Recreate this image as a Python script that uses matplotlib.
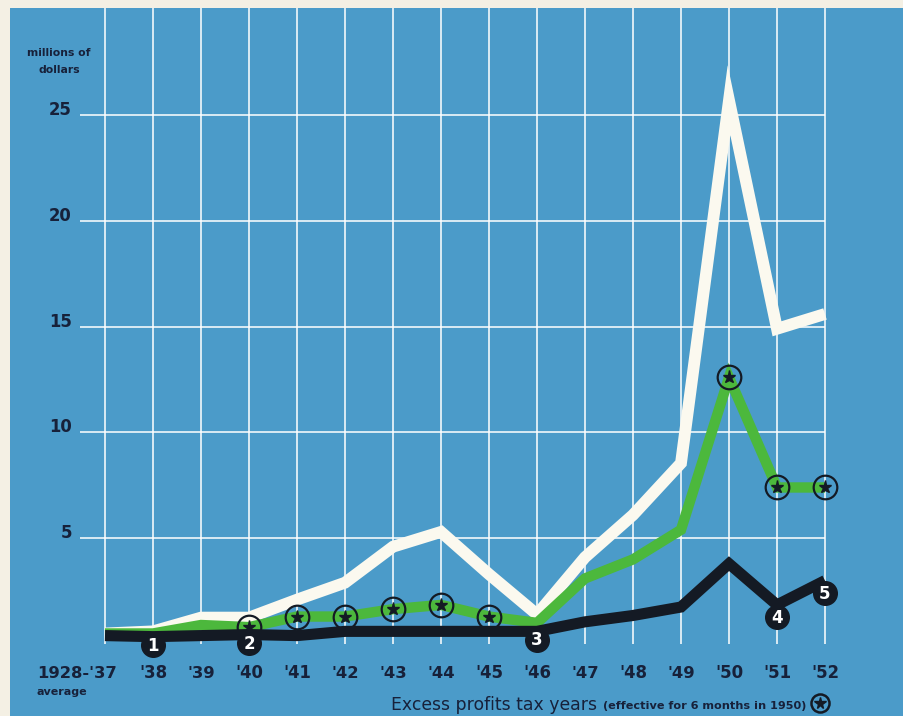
import matplotlib.pyplot as plt

# years on the x axis (0 = 1928-'37 average)
years = ["1928-'37", "'38", "'39", "'40", "'41", "'42", "'43", "'44",
         "'45", "'46", "'47", "'48", "'49", "'50", "'51", "'52"]
y_ticks = [5, 10, 15, 20, 25]

# millions of dollars
white_vals = [0.5, 0.6, 1.25, 1.25, 2.1, 2.9, 4.6, 5.3, 3.3, 1.4,
              4.1, 6.1, 8.55, 25.7, 14.9, 15.6]
green_vals = [0.5, 0.5, 0.9, 0.8, 1.3, 1.3, 1.65, 1.85, 1.3, 1.0,
              3.1, 4.0, 5.4, 12.6, 7.4, 7.4]
black_vals = [0.4, 0.35, 0.4, 0.45, 0.4, 0.6, 0.6, 0.6, 0.6, 0.6,
              1.05, 1.35, 1.75, 3.8, 1.85, 3.0]

star_years = [3, 4, 5, 6, 7, 8, 13, 14, 15]   # excess profits tax years
numbered = [(1, 1), (3, 2), (9, 3), (14, 4), (15, 5)]  # (year index, label)

BLUE = '#4b9bc9'
CREAM = '#f4f0e4'
WHITE = '#fbf9ef'
GREEN = '#4cb83c'
DARK = '#141a24'
TEXT = '#17213a'
FONT = 'DejaVu Sans'

fig = plt.figure(figsize=(9.04, 7.16), dpi=100, facecolor=CREAM)
ax = fig.add_axes([10 / 904, 0, 894 / 904, 708 / 716])
ax.set_facecolor(BLUE)
ax.set_xlim(-1.979, 16.646)
ax.set_ylim(-3.40, 30.06)
ax.axis('off')
ax.add_patch(plt.Rectangle((0, 0), 1, 1, transform=ax.transAxes,
                           color=BLUE, zorder=0))
renderer = fig.canvas.get_renderer()


def fit(t, width):
    # scale a text so it spans the given width in pixels
    w = t.get_window_extent(renderer).width
    t.set_fontsize(t.get_fontsize() * width / w)


x = list(range(len(years)))

# grid
ax.vlines(x, 0, 30.06, color='white', lw=1.3, alpha=0.85, zorder=1)
ax.hlines(y_ticks, -0.52, 15, color='white', lw=1.3, alpha=0.85, zorder=1)

# lines
ax.plot(x, white_vals, color=WHITE, lw=8.5, solid_joinstyle='miter',
        solid_capstyle='butt', zorder=2)
ax.plot(x, green_vals, color=GREEN, lw=7.5, solid_joinstyle='miter',
        solid_capstyle='butt', zorder=3)
ax.plot(x, black_vals, color=DARK, lw=8.0, solid_joinstyle='miter',
        solid_capstyle='butt', zorder=4)

# star circles on the green line
sx = [x[i] for i in star_years]
sy = [green_vals[i] for i in star_years]
ax.plot(sx, sy, 'o', ms=17, mfc='none', mec=DARK, mew=1.6, zorder=5)
ax.plot(sx, sy, '*', ms=9.5, color=DARK, zorder=5)

# numbered black circles
for i, n in numbered:
    off = -6 if i < 13 else -9
    ax.plot([x[i]], [black_vals[i]], 'o', ms=17, color=DARK, zorder=6,
            transform=ax.transData + plt.matplotlib.transforms.ScaledTranslation(
                0, off / 72, fig.dpi_scale_trans))
    ax.annotate(str(n), (x[i], black_vals[i]), xytext=(0, off - 0.5),
                textcoords='offset points', ha='center', va='center',
                color='white', fontsize=12, fontweight='bold', family=FONT,
                zorder=7)

# y tick labels
probe = ax.text(0, 0, '25', fontsize=12, fontweight='bold', family=FONT)
fit(probe, 23)
tick_size = probe.get_fontsize()
probe.remove()
for v in y_ticks:
    ax.text(-0.69, v, str(v), ha='right', va='baseline', fontsize=tick_size,
            fontweight='bold', color=TEXT, family=FONT)

# x tick labels
for i, lab in enumerate(years):
    if i == 0:
        t = ax.text(0.25, -1.61, lab, ha='right', va='baseline', fontsize=12,
                    fontweight='bold', color=TEXT, family=FONT)
        fit(t, 80)
    else:
        t = ax.text(i, -1.61, lab, ha='center', va='baseline', fontsize=12,
                    fontweight='bold', color=TEXT, family=FONT)
        fit(t, 28)
t = ax.text(-1.42, -2.41, 'average', ha='left', va='baseline', fontsize=9,
            fontweight='bold', color=TEXT, family=FONT)
fit(t, 51)

t1 = fig.text(59 / 904, 1 - 53 / 716, 'millions of', ha='center',
              va='center', fontsize=9, fontweight='bold', color=TEXT,
              family=FONT)
fit(t1, 63)
t2 = fig.text(59 / 904, 1 - 70 / 716, 'dollars', ha='center',
              va='center', fontsize=t1.get_fontsize(), fontweight='bold',
              color=TEXT, family=FONT)

t = fig.text(391 / 904, 1 - 710 / 716, 'Excess profits tax years', ha='left',
             va='baseline', fontsize=14, color=TEXT, family=FONT)
fit(t, 206)
t = fig.text(603 / 904, 1 - 709 / 716, '(effective for 6 months in 1950)',
             ha='left', va='baseline', fontsize=9.5, fontweight='bold',
             color=TEXT, family=FONT)
fit(t, 203)
ax.plot([14.89], [-2.78], 'o', ms=13, mfc='none', mec=DARK, mew=1.8,
        clip_on=False, zorder=5)
ax.plot([14.89], [-2.78], '*', ms=8.5, color=DARK, clip_on=False, zorder=5)

fig.savefig('out.png', dpi=100, facecolor=CREAM)
